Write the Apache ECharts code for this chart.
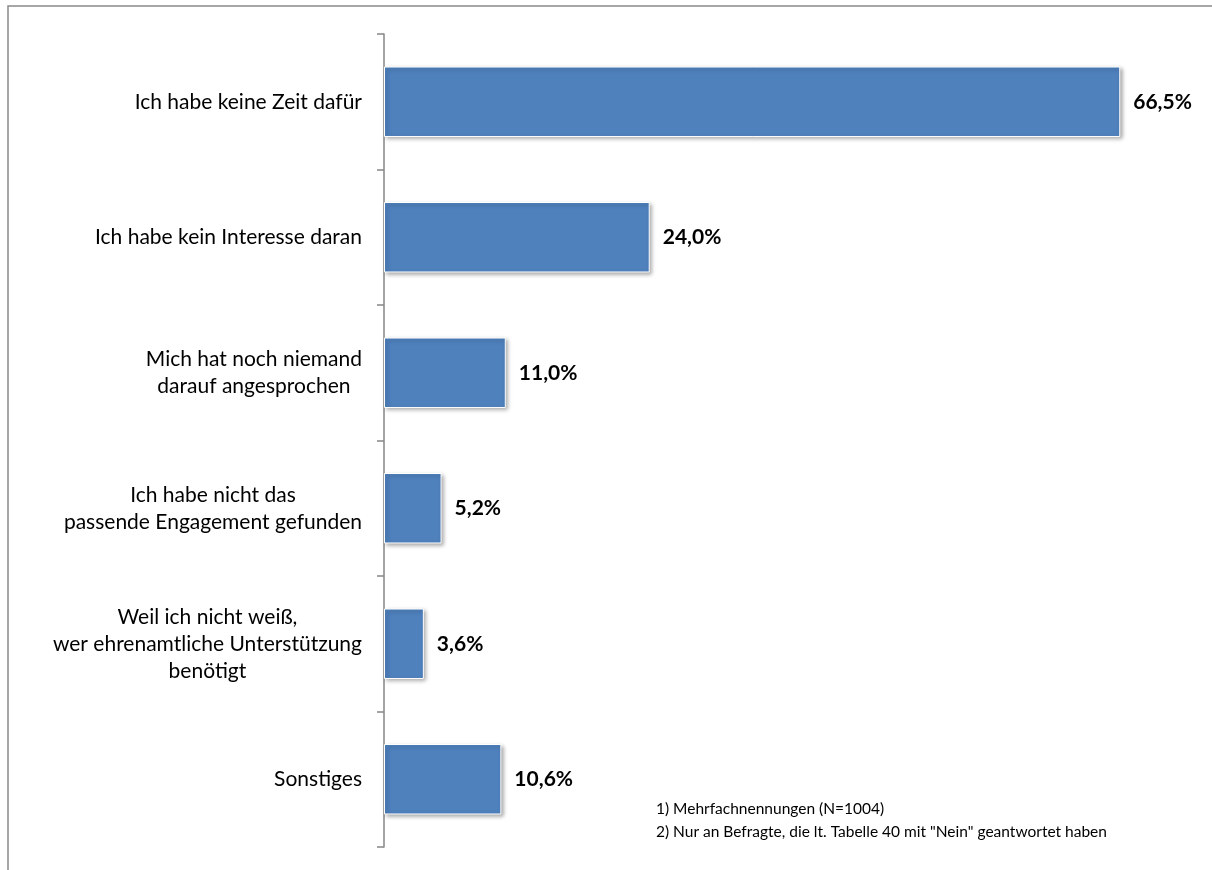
<!DOCTYPE html>
<html>
<head>
<meta charset="utf-8">
<script src="https://cdn.jsdelivr.net/npm/echarts@6/dist/echarts.min.js"></script>
<style>
  html, body { margin: 0; padding: 0; background: #fff; }
  #chart { width: 1212px; height: 870px; }
</style>
</head>
<body>
<div id="chart"></div>
<script>
// Gründe gegen ein Ehrenamt (Mehrfachnennungen)
const categories = [
  'Ich habe keine Zeit dafür',
  'Ich habe kein Interesse daran',
  'Mich hat noch niemand\ndarauf angesprochen',
  'Ich habe nicht das\npassende Engagement gefunden',
  'Weil ich nicht weiß,\nwer ehrenamtliche Unterstützung\nbenötigt',
  'Sonstiges'
];
const values = [66.5, 24.0, 11.0, 5.2, 3.6, 10.6];
const footnotes = [
  '1) Mehrfachnennungen (N=1004)',
  '2) Nur an Befragte, die lt. Tabelle 40 mit "Nein" geantwortet haben'
];

const FONT = 'Lato';
const chart = echarts.init(document.getElementById('chart'));

chart.setOption({
  animation: false,
  grid: { left: 384, right: 53, top: 34, bottom: 23 },
  xAxis: {
    type: 'value',
    min: 0,
    max: 70,
    show: false
  },
  yAxis: {
    type: 'category',
    inverse: true,
    data: categories,
    axisLine: { show: true, lineStyle: { color: '#868686', width: 1.5 } },
    axisTick: {
      show: true,
      inside: false,
      alignWithLabel: false,
      length: 7,
      lineStyle: { color: '#868686', width: 1.5 }
    },
    axisLabel: {
      margin: 22,
      align: 'right',
      // jede Zeile zentriert, Block rechtsbündig
      formatter: v => v.split('\n').map(s => '{c|' + s + '}').join('\n'),
      rich: {
        c: {
          align: 'center',
          fontFamily: FONT,
          fontSize: 21,
          lineHeight: 27,
          color: '#000'
        }
      }
    }
  },
  series: [{
    type: 'bar',
    data: values,
    barWidth: '52%',
    itemStyle: {
      color: '#4F81BD',
      borderColor: '#fff',
      borderWidth: 1,
      shadowColor: 'rgba(0,0,0,0.35)',
      shadowBlur: 4,
      shadowOffsetX: 2,
      shadowOffsetY: 2
    },
    label: {
      show: true,
      position: 'right',
      distance: 13,
      formatter: p => p.value.toFixed(1).replace('.', ',') + '%',
      fontFamily: FONT,
      fontSize: 21,
      fontWeight: 'bold',
      color: '#000'
    }
  }],
  graphic: [
    {
      type: 'polyline',
      shape: { points: [[8, 880], [8, 6], [1220, 6]] },
      style: { fill: null, stroke: '#898989', lineWidth: 1.5 },
      silent: true
    },
    {
      type: 'text',
      left: 656,
      top: 797,
      style: {
        text: footnotes.join('\n'),
        fontFamily: FONT,
        fontSize: 15.5,
        lineHeight: 23,
        fill: '#000'
      }
    }
  ]
});
</script>
</body>
</html>
